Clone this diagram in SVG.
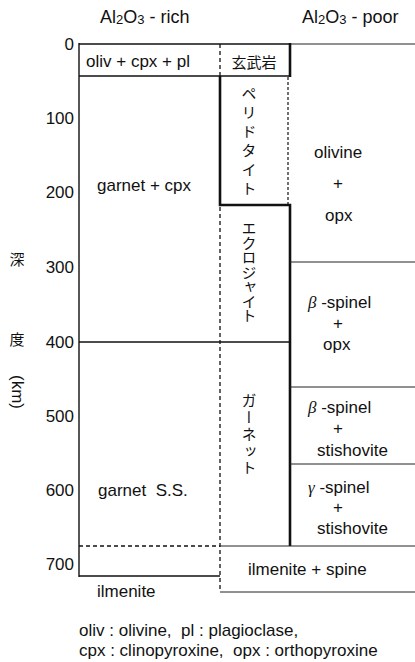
<svg xmlns="http://www.w3.org/2000/svg" width="415" height="662" viewBox="0 0 415 662">
<style>
.t{font-family:"Liberation Sans",Arial,"Noto Sans CJK JP",sans-serif;font-size:17px;fill:#111}
.ax{text-anchor:end;dominant-baseline:central}
.c{dominant-baseline:central}
.m{text-anchor:middle}
.h{font-size:18px}
.jp{font-family:"Noto Sans CJK JP","Noto Sans CJK SC",sans-serif;font-size:15px;fill:#111}
.v{writing-mode:vertical-rl;text-anchor:middle}
.gr{font-family:"Liberation Serif",serif;font-style:italic}
.ln{stroke:#111;fill:none;stroke-width:1.4}
.thk{stroke:#111;fill:none;stroke-width:2.6}
.thin{stroke:#222;fill:none;stroke-width:1}
.ds{stroke:#111;fill:none;stroke-width:1.3;stroke-dasharray:4 3}
.dt{stroke:#111;fill:none;stroke-width:1.2;stroke-dasharray:3 2}
</style>

<g id="header">
<text class="t h c" x="100" y="17">Al<tspan font-size="13" dy="2">2</tspan><tspan dy="-2">O</tspan><tspan font-size="13" dy="2">3</tspan><tspan dy="-2"> - rich</tspan></text>
<text class="t h c" x="302" y="17">Al<tspan font-size="13" dy="2">2</tspan><tspan dy="-2">O</tspan><tspan font-size="13" dy="2">3</tspan><tspan dy="-2"> - poor</tspan></text>
</g>

<g id="axis">
<line class="ln" x1="79" y1="43" x2="79" y2="577" stroke-width="1.8"/>
<text class="t ax" x="74" y="44">0</text>
<text class="t ax" x="74" y="118">100</text>
<text class="t ax" x="74" y="192">200</text>
<text class="t ax" x="74" y="267">300</text>
<text class="t ax" x="74" y="342">400</text>
<text class="t ax" x="74" y="416">500</text>
<text class="t ax" x="74" y="490">600</text>
<text class="t ax" x="74" y="564">700</text>
<text class="jp c m" x="17" y="258" font-size="16">深</text>
<text class="jp c m" x="17" y="338" font-size="16">度</text>
<text class="t c m" transform="translate(17,392) rotate(90)" font-size="16">(km)</text>
</g>

<g id="connectors">
<line class="ln" x1="79" y1="44" x2="290" y2="44" stroke-width="2"/>
<line class="thin" x1="290" y1="44" x2="415" y2="44"/>
<line class="ln" x1="79" y1="76" x2="290" y2="76" stroke-width="1.6"/>
<line class="ds" x1="220" y1="44" x2="220" y2="76"/>
<line class="thk" x1="290" y1="43" x2="290" y2="77"/>
<path class="thk" d="M220,76 V205 H290 V546"/>
<line class="dt" x1="288" y1="77" x2="288" y2="204"/>
<line class="ds" x1="220" y1="207" x2="220" y2="592"/>
<line class="ln" x1="79" y1="342" x2="290" y2="342" stroke-width="1.6"/>
<line class="thin" x1="290" y1="262" x2="415" y2="262" stroke-width="1.2"/>
<line class="thin" x1="290" y1="387" x2="415" y2="387" stroke-width="1.2"/>
<line class="thin" x1="290" y1="464" x2="415" y2="464" stroke-width="1.2"/>
<line class="ds" x1="79" y1="546" x2="220" y2="546"/>
<line class="thin" x1="220" y1="546" x2="415" y2="546"/>
<line class="ln" x1="79" y1="576" x2="220" y2="576"/>
<line class="thin" x1="220" y1="592" x2="415" y2="592" stroke-width="1.2"/>
</g>

<g id="basalt-rich"><text class="t c" x="86" y="61">oliv + cpx + pl</text></g>
<g id="basalt"><text class="jp c m" x="254" y="61" font-size="17">玄武岩</text></g>
<g id="peridotite"><text class="jp v" x="249" y="143" letter-spacing="4">ペリドタイト</text></g>
<g id="eclogite"><text class="jp v" x="249" y="272" letter-spacing="-0.5">エクロジャイト</text></g>
<g id="garnetite"><text class="jp v" x="249" y="435" letter-spacing="1.8">ガーネット</text></g>

<g id="garnet-cpx"><text class="t c" x="97" y="185">garnet + cpx</text></g>
<g id="garnet-ss"><text class="t c" x="98" y="490" xml:space="preserve">garnet  S.S.</text></g>
<g id="ilmenite"><text class="t c" x="97" y="591">ilmenite</text></g>

<g id="olivine-opx">
<text class="t c" x="314" y="152">olivine</text>
<text class="t c m" x="338" y="183">+</text>
<text class="t c" x="325" y="215">opx</text>
</g>
<g id="beta-opx">
<text class="t c" x="308" y="302"><tspan class="gr">β</tspan> -spinel</text>
<text class="t c m" x="338" y="323">+</text>
<text class="t c" x="323" y="344">opx</text>
</g>
<g id="beta-stishovite">
<text class="t c" x="308" y="407"><tspan class="gr">β</tspan> -spinel</text>
<text class="t c m" x="338" y="428">+</text>
<text class="t c" x="317" y="450">stishovite</text>
</g>
<g id="gamma-stishovite">
<text class="t c" x="308" y="487"><tspan class="gr">γ</tspan> -spinel</text>
<text class="t c m" x="338" y="507">+</text>
<text class="t c" x="317" y="528">stishovite</text>
</g>
<g id="ilmenite-spinel"><text class="t c" x="248" y="569">ilmenite + spine</text></g>

<g id="legend">
<text class="t c" x="79" y="630" xml:space="preserve">oliv : olivine,  pl : plagioclase,</text>
<text class="t c" x="79" y="650" xml:space="preserve">cpx : clinopyroxine,  opx : orthopyroxine</text>
</g>
</svg>
